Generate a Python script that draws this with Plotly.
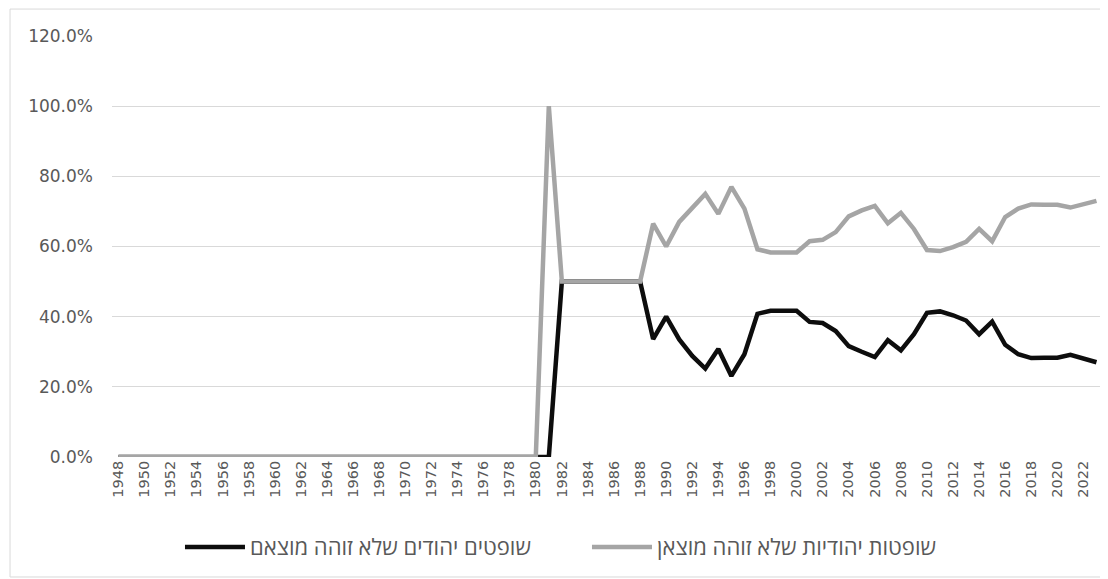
import plotly.graph_objects as go

years = list(range(1948, 2024))

# Values (fraction), 1948..2023
male_pre = [0.0] * (1981 - 1948 + 1)          # 1948..1981
male_tail = [0.50, 0.50, 0.50, 0.50, 0.50, 0.50, 0.50,   # 1982..1988
             0.336, 0.40, 0.335, 0.288, 0.252, 0.308, 0.231, 0.293,  # 1989..1996
             0.408, 0.417, 0.417, 0.417,                            # 1997..2000
             0.385, 0.382, 0.359, 0.316, 0.300, 0.285, 0.333, 0.304, 0.350,  # 2001..2009
             0.411, 0.415, 0.404, 0.389, 0.350, 0.386, 0.320, 0.293,  # 2010..2017
             0.282, 0.283, 0.283, 0.291, 0.280, 0.270]  # 2018..2023
male = male_pre + male_tail

female_pre = [0.0] * (1980 - 1948 + 1)        # 1948..1980
female_tail = [1.0,                             # 1981
               0.50, 0.50, 0.50, 0.50, 0.50, 0.50, 0.50,   # 1982..1988
               0.665, 0.60, 0.670, 0.712, 0.750, 0.693, 0.770, 0.708,  # 1989..1996
               0.592, 0.583, 0.583, 0.583,                  # 1997..2000
               0.615, 0.619, 0.641, 0.686, 0.703, 0.716, 0.666, 0.696, 0.650,  # 2001..2009
               0.590, 0.587, 0.598, 0.613, 0.650, 0.615, 0.684, 0.708,  # 2010..2017
               0.720, 0.719, 0.719, 0.711, 0.720, 0.730]  # 2018..2023
female = female_pre + female_tail

name_male = "שופטים יהודים שלא זוהה מוצאם"
name_female = "שופטות יהודיות שלא זוהה מוצאן"

TICKFONT = "DejaVu Sans, sans-serif"
LEGFONT = "Open Sans, Liberation Sans, DejaVu Sans, sans-serif"

fig = go.Figure()
fig.add_trace(go.Scatter(x=years, y=male, mode="lines", name=name_male,
                         line=dict(color="#0d0d0d", width=4.5)))
fig.add_trace(go.Scatter(x=years, y=female, mode="lines", name=name_female,
                         line=dict(color="#a5a5a5", width=4.5)))

# The page body adds an 8px offset; the figure is sized so it ends at the window edge.
fig.update_layout(
    width=1100, height=571,
    margin=dict(l=104, r=5, t=28, b=122),
    paper_bgcolor="white", plot_bgcolor="white",
    font=dict(family=LEGFONT, color="#595959", size=14),
    showlegend=True,
    legend=dict(orientation="h", x=0.0686, xanchor="left", y=-0.214, yanchor="middle",
                font=dict(size=22, color="#595959", family=LEGFONT),
                entrywidth=332, entrywidthmode="pixels", itemwidth=60,
                traceorder="normal", bgcolor="rgba(0,0,0,0)"),
    xaxis=dict(range=[1947.5, 2023.5], tickmode="linear", tick0=1948, dtick=2,
               tickangle=-90, showgrid=False, zeroline=False, showline=False,
               ticks="", tickfont=dict(size=14.5, color="#595959", family=TICKFONT)),
    yaxis=dict(range=[0, 1.2], dtick=0.2, tickformat=".1%", showgrid=True,
               gridcolor="#d9d9d9", gridwidth=1, zeroline=False, showline=False,
               ticks="", ticklabelstandoff=18,
               tickfont=dict(size=17, color="#595959", family=TICKFONT)),
    shapes=[dict(type="rect", xref="paper", yref="paper",
                 x0=-0.1029, x1=1.003, y0=-0.285, y1=1.064,
                 line=dict(color="#d9d9d9", width=1), fillcolor="rgba(0,0,0,0)",
                 layer="below")],
)

fig.write_html("out.html")
